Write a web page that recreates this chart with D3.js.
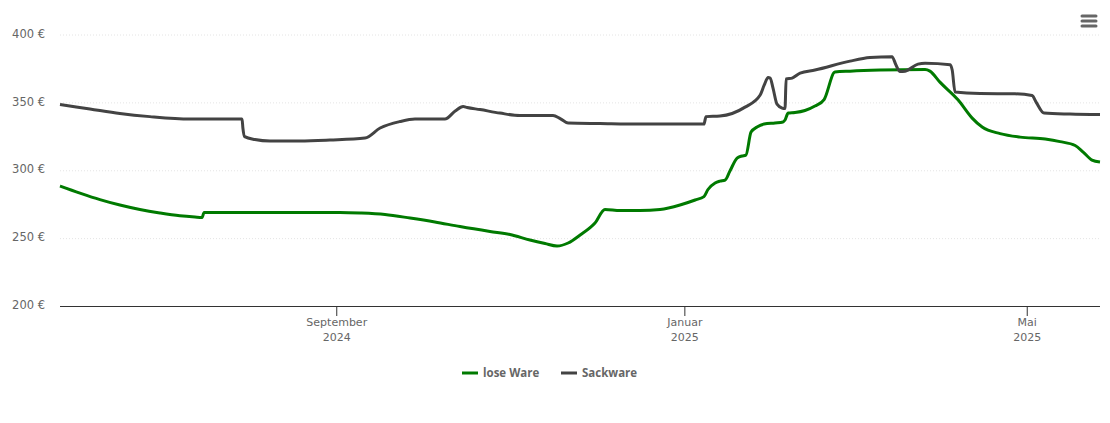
<!DOCTYPE html>
<html>
<head>
<meta charset="utf-8">
<script src="https://cdn.jsdelivr.net/npm/d3@7"></script>
<style>
body { margin: 0; background: #fff; }
text { font-family: "DejaVu Sans", sans-serif; }
</style>
</head>
<body>
<script>
// days counted from the left edge of the chart (27 May 2024)
var startDate = new Date(2024, 4, 27);

var loseDays = [0,7,14,21,28,35,42,47.3,49.8,50.5,56,98.1,105.2,113.9,122.7,131.4,140.2,150.7,157.7,164.7,170,174.2,178.1,182.3,187.5,191,196.3,203.3,210.3,217.3,222.6,225.7,227.1,229.6,231.3,233.1,234.8,237.3,239,240.4,242.2,244.3,246.8,250.6,253.4,254.1,255.2,257.6,261.1,264.6,267.8,271.6,276.9,287.4,303.2,304.9,308.4,314.8,319.7,323.2,329.5,336.5,345.3,350.5,355.8,358.6,361.7,364.5];
var losePrice = [288.4,283.2,278.4,274.4,271.1,268.5,266.4,265.5,265.2,268.9,268.9,268.9,268.5,267.4,264.8,261.9,258.5,254.9,252.7,248.6,246,244.2,246.4,252.3,261.1,271.1,270.3,270.3,271.1,274.4,278.1,280.6,285.8,290.6,292,292.8,299.4,309,310.5,311.2,328.1,331.8,334,334.8,335.5,337,342.1,342.5,344,347.3,352.1,372.3,373,373.8,374.2,373,364.9,351.7,338.4,331.8,327,324.4,323,321.1,318.2,313.4,307.5,306];

var sackDays = [0,10.5,21,31.5,45.6,63.8,64.1,64.7,68.3,73.6,84.1,94.6,106.9,112.2,119.2,124.4,134.9,138.5,141.3,142.7,147.2,154.2,161.2,172.8,175.3,178.1,189.3,203.3,225.7,226.4,231.3,240.1,245.4,246.8,248.2,248.9,249.9,251.3,253.1,254.1,254.5,256.6,259.4,264.6,276.9,283.9,291.6,293,294.4,296.2,300.7,303.2,312,312.7,313.7,322.5,334.7,340.7,342.1,344.9,354,364.5];
var sackPrice = [348.4,345.1,341.8,339.5,337.7,337.7,331.1,324.8,322.6,321.5,321.5,322.2,323.7,331.1,335.9,337.7,337.7,343.6,346.9,346.2,344.7,342.1,340.3,340.3,338.1,334.8,334.4,334,334,339.5,339.9,346.5,355.4,362.7,368.3,367.9,360.5,348.7,345.8,345.4,367.2,367.9,371.6,373.8,380.4,383,383.7,377.5,372.7,373,378.2,378.9,377.8,373.8,357.6,356.5,356.3,355,350.2,342.1,341.4,341];

var priceTicks = [200,250,300,350,400];
var monthTicks = [new Date(2024,8,1), new Date(2025,0,1), new Date(2025,4,1)];
var monthNames = ["September","Januar","Mai"];
var seriesNames = ["lose Ware","Sackware"];
var seriesColors = ["#007a00","#434343"];

var width = 1110, height = 423;
var plotLeft = 60, plotRight = 1100, plotTop = 34.5, plotBottom = 306;

var svg = d3.select("body").append("svg")
	.attr("width",width)
	.attr("height",height)
	.style("display","block");

var dayToDate = function(d) {return new Date(startDate.getTime()+d*86400000)};

var x = d3.scaleTime()
	.domain([startDate,dayToDate(364.5)])
	.range([plotLeft,plotRight]);

var y = d3.scaleLinear()
	.domain([200,400])
	.range([plotBottom,plotTop]);

// price axis, the tick lines are the dotted grid
var yAxis = svg.append("g")
	.attr("transform","translate("+plotLeft+",0)")
	.call(d3.axisLeft(y)
		.tickValues(priceTicks)
		.tickSize(-(plotRight-plotLeft))
		.tickPadding(15)
		.tickFormat(function(d) {return d+" €"}));

yAxis.select(".domain").remove();
yAxis.selectAll("line")
	.attr("stroke","#e4e4e4")
	.attr("stroke-dasharray","1,2");
yAxis.selectAll(".tick").filter(function(d) {return d==200}).select("line").remove();
yAxis.selectAll("text")
	.attr("fill","#666")
	.attr("y",-1)
	.style("font-size","11.5px");

// month axis
var xAxis = svg.append("g")
	.attr("transform","translate(-0.5,"+plotBottom+")")
	.call(d3.axisBottom(x)
		.tickValues(monthTicks)
		.tickSize(10)
		.tickSizeOuter(0)
		.tickFormat(""));

xAxis.select(".domain").attr("stroke","#333");
xAxis.selectAll("line").attr("stroke","#333");

var labels = xAxis.selectAll(".tick text")
	.attr("fill","#666")
	.attr("y",0)
	.attr("dy",null)
	.style("font-size","11px");

labels.append("tspan")
	.attr("x",0)
	.attr("y",20)
	.text(function(d,i) {return monthNames[i]});
labels.append("tspan")
	.attr("x",0)
	.attr("y",35)
	.text(function(d) {return d.getFullYear()});

var line = d3.line()
	.x(function(d) {return x(dayToDate(d[0]))})
	.y(function(d) {return y(d[1])})
	.curve(d3.curveMonotoneX);

var series = [d3.zip(loseDays,losePrice), d3.zip(sackDays,sackPrice)];

svg.selectAll(".series")
	.data(series)
	.enter()
	.append("path")
	.attr("class","series")
	.attr("fill","none")
	.attr("stroke",function(d,i) {return seriesColors[i]})
	.attr("stroke-width",3)
	.attr("stroke-linejoin","round")
	.attr("d",line);

// legend
var legendX = [462,561];
var legend = svg.selectAll(".legend")
	.data(seriesNames)
	.enter()
	.append("g")
	.attr("class","legend")
	.attr("transform",function(d,i) {return "translate("+legendX[i]+",373)"});

legend.append("line")
	.attr("x2",16)
	.attr("stroke",function(d,i) {return seriesColors[i]})
	.attr("stroke-width",3);

legend.append("text")
	.attr("x",21)
	.attr("y",4)
	.attr("fill","#666")
	.style("font-size","11.5px")
	.style("font-family","'Open Sans', sans-serif")
	.style("font-weight","bold")
	.text(function(d) {return d});

// menu icon
svg.selectAll(".menu")
	.data([16,21,26])
	.enter()
	.append("line")
	.attr("class","menu")
	.attr("x1",1082)
	.attr("x2",1096)
	.attr("y1",function(d) {return d})
	.attr("y2",function(d) {return d})
	.attr("stroke","#666")
	.attr("stroke-width",3)
	.attr("stroke-linecap","round");
</script>
</body>
</html>
